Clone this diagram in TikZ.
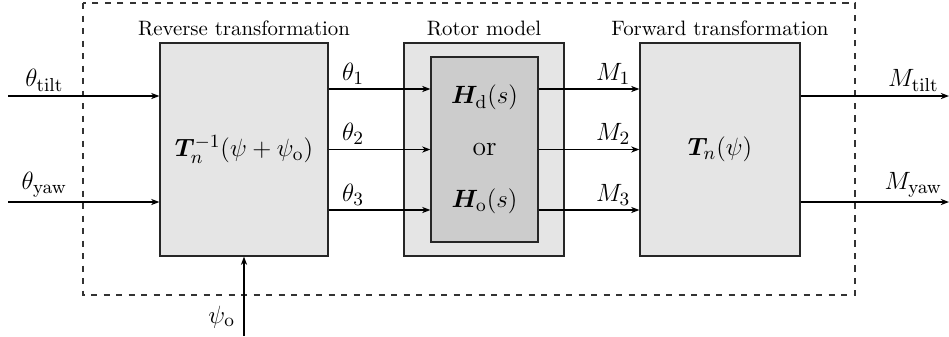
\documentclass[tikz,border=0pt]{standalone}
\usepackage{amsmath,bm}
\usetikzlibrary{arrows.meta}
\newcommand{\mathsz}{\fontsize{13.2}{16}\selectfont}
\begin{document}
\begin{tikzpicture}[x=0.48pt,y=-0.48pt,
  blk/.style={draw=black!85, line width=0.6pt, fill=gray!20, inner sep=0pt,
    minimum width=80.64pt, minimum height=102.24pt, font=\mathsz},
  narrowblk/.style={blk, minimum width=76.8pt},
  innerblk/.style={draw=black!85, line width=0.6pt, fill=gray!40, inner sep=0pt,
    minimum width=51.36pt, minimum height=88.8pt, font=\mathsz, align=center},
  captxt/.style={font=\normalsize, inner sep=2pt},
  sig/.style={line width=0.6pt, -{Stealth[length=4pt,width=3pt]}},
  lab/.style={font=\mathsz, inner sep=2pt},
  dashframe/.style={dashed, line width=0.6pt, draw=black!80}]
\useasboundingbox (0,0) rectangle (949,336);

\draw[dashframe] (83,3) rectangle (855,295);

\node[blk, label={[captxt, yshift=1pt]above:Reverse transformation}] (rev) at (244,149.5)
  {$\boldsymbol{T}_n^{-1}(\psi+\psi_{\mathrm{o}})$};
\node[narrowblk, label={[captxt, yshift=1pt]above:Rotor model}] (rot) at (484,149.5) {};
\node[innerblk] (hmod) at (484.5,149.5)
  {$\boldsymbol{H}_{\mathrm{d}}(s)$\\[9pt] or\\[9pt] $\boldsymbol{H}_{\mathrm{o}}(s)$};
\node[narrowblk, label={[captxt, yshift=1pt]above:Forward transformation}] (fwd) at (720,149.5)
  {$\boldsymbol{T}_n(\psi)$};

% inputs
\coordinate (tin) at (8,96);
\coordinate (yin) at (8,202);
\draw[sig] (tin) -- node[lab, above, pos=0.24] {$\theta_{\mathrm{tilt}}$} (tin -| rev.west);
\draw[sig] (yin) -- node[lab, above, pos=0.24] {$\theta_{\mathrm{yaw}}$} (yin -| rev.west);

% theta
\coordinate (t1) at (328,89);
\coordinate (t2) at (328,149.5);
\coordinate (t3) at (328,210);
\draw[sig] (t1 -| rev.east) -- node[lab, above, pos=0.24] {$\theta_1$} (t1 -| hmod.west);
\draw[sig] (t2 -| rev.east) -- node[lab, above, pos=0.24] {$\theta_2$} (t2 -| hmod.west);
\draw[sig] (t3 -| rev.east) -- node[lab, above, pos=0.24] {$\theta_3$} (t3 -| hmod.west);

% M
\draw[sig] (t1 -| hmod.east) -- node[lab, above, pos=0.74] {$M_1$} (t1 -| fwd.west);
\draw[sig] (t2 -| hmod.east) -- node[lab, above, pos=0.74] {$M_2$} (t2 -| fwd.west);
\draw[sig] (t3 -| hmod.east) -- node[lab, above, pos=0.74] {$M_3$} (t3 -| fwd.west);

% outputs
\coordinate (tout) at (949,96);
\coordinate (yout) at (949,202);
\draw[sig] (tout -| fwd.east) -- node[lab, above, pos=0.76] {$M_{\mathrm{tilt}}$} (tout);
\draw[sig] (yout -| fwd.east) -- node[lab, above, pos=0.76] {$M_{\mathrm{yaw}}$} (yout);

% psi_o
\coordinate (psin) at (244,336);
\draw[sig] (psin) -- node[lab, left, pos=0.24, inner sep=4pt] {$\psi_{\mathrm{o}}$} (rev.south);
\end{tikzpicture}
\end{document}
